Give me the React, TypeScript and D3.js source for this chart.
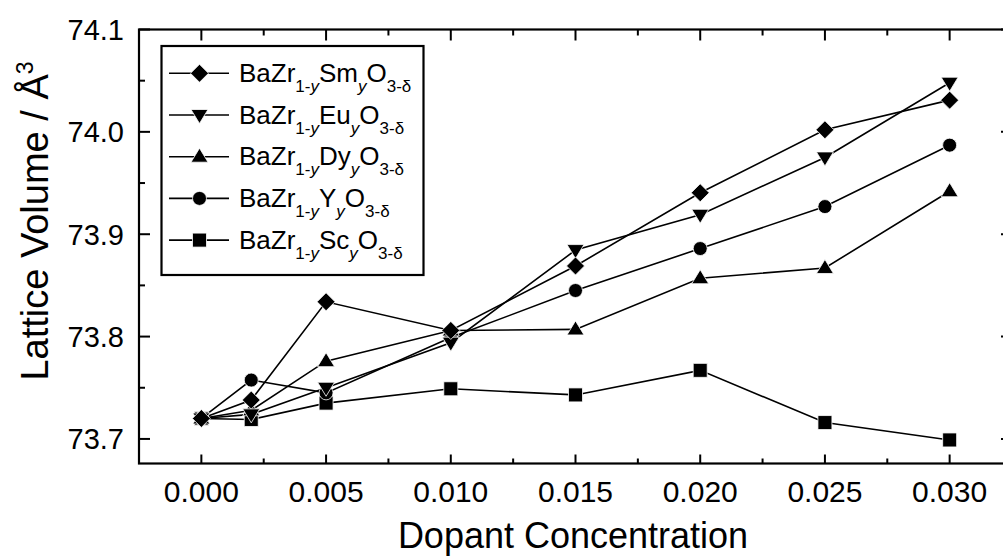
import React from "react";
import * as d3 from "d3";

const concentrations = [0, 0.002, 0.005, 0.01, 0.015, 0.02, 0.025, 0.03];
const smValues = [73.72, 73.738, 73.834, 73.806, 73.869, 73.9405, 74.002, 74.031];
const euValues = [73.72, 73.724, 73.75, 73.794, 73.8845, 73.919, 73.975, 74.048];
const dyValues = [73.72, 73.728, 73.776, 73.806, 73.807, 73.857, 73.867, 73.942];
const yValues = [73.72, 73.7575, 73.745, 73.799, 73.845, 73.886, 73.927, 73.987];
const scValues = [73.72, 73.719, 73.735, 73.749, 73.743, 73.767, 73.716, 73.699];

const xTickValues = [0, 0.005, 0.01, 0.015, 0.02, 0.025, 0.03];
const xTickLabels = ["0.000", "0.005", "0.010", "0.015", "0.020", "0.025", "0.030"];
const yTickValues = [73.7, 73.8, 73.9, 74.0, 74.1];
const yTickLabels = ["73.7", "73.8", "73.9", "74.0", "74.1"];

const seriesNames = ["Sm", "Eu", "Dy", "Y", "Sc"];
const seriesMarkers = ["diamond", "triDown", "triUp", "circle", "square"];
const seriesData = [smValues, euValues, dyValues, yValues, scValues];

const FONT = "'Liberation Sans', Arial, Helvetica, sans-serif";

const W = 1003;
const H = 557;
const L = 139;
const R = 1012;
const T = 29.5;
const B = 463.5;

const x = d3.scaleLinear().domain([-0.0025, 0.0325]).range([L, R]);
const y = d3.scaleLinear().domain([73.676, 74.1]).range([B, T]);

function markerPath(kind: string): string {
  switch (kind) {
    case "diamond":
      return "M0,-9L9,0L0,9L-9,0Z";
    case "triDown":
      return "M-8.5,-5.5L8.5,-5.5L0,8.5Z";
    case "triUp":
      return "M-8.5,5.5L8.5,5.5L0,-8.5Z";
    case "square":
      return "M-7,-7L7,-7L7,7L-7,7Z";
    default:
      return d3.symbol().type(d3.symbolCircle).size(Math.PI * 7 * 7)() || "";
  }
}

function Marker({ kind, cx, cy }: { kind: string; cx: number; cy: number }) {
  return (
    <path
      d={markerPath(kind)}
      transform={`translate(${cx},${cy})`}
      fill="#000"
      stroke="#fff"
      strokeWidth={0.8}
    />
  );
}

export default function App() {
  const line = d3
    .line<[number, number]>()
    .x((d) => x(d[0]))
    .y((d) => y(d[1]));

  const xMinor = d3.range(-0.0025, 0.0326, 0.0025).map((v) => +v.toFixed(4));
  const yMinor = d3.range(73.7, 74.101, 0.05).map((v) => +v.toFixed(2));

  const drawOrder = [4, 3, 2, 1, 0];

  const legendTop = 46;
  const legendRowY = (i: number) => 73.3 + i * 41.7;

  return (
    <svg
      width={W}
      height={H}
      style={{ position: "absolute", left: 0, top: 0, background: "#fff" }}
      fontFamily={FONT}
    >
      <rect x={0} y={0} width={W} height={H} fill="#fff" />
      {drawOrder.map((si) => (
        <path
          key={"l" + si}
          d={line(concentrations.map((c, i) => [c, seriesData[si][i]] as [number, number])) || ""}
          fill="none"
          stroke="#000"
          strokeWidth={1.6}
        />
      ))}
      {drawOrder.map((si) =>
        concentrations.map((c, i) => (
          <Marker key={`m${si}-${i}`} kind={seriesMarkers[si]} cx={x(c)} cy={y(seriesData[si][i])} />
        ))
      )}

      <rect x={L} y={T} width={R - L} height={B - T} fill="none" stroke="#000" strokeWidth={2.2} />

      {xMinor.map((v) => {
        const major = xTickValues.some((t) => Math.abs(t - v) < 1e-6);
        const len = major ? 9 : 5;
        return (
          <g key={"xt" + v}>
            <line x1={x(v)} x2={x(v)} y1={B} y2={B - len} stroke="#000" strokeWidth={2} />
            <line x1={x(v)} x2={x(v)} y1={T} y2={T + (major ? 11 : 6)} stroke="#000" strokeWidth={2} />
          </g>
        );
      })}
      {yMinor.map((v) => {
        const major = yTickValues.some((t) => Math.abs(t - v) < 1e-6);
        const len = major ? 11 : 6;
        return (
          <g key={"yt" + v}>
            <line x1={L} x2={L + len} y1={y(v)} y2={y(v)} stroke="#000" strokeWidth={2} />
            <line x1={R} x2={R - len} y1={y(v)} y2={y(v)} stroke="#000" strokeWidth={2} />
          </g>
        );
      })}

      {xTickValues.map((v, i) => (
        <text key={"xl" + i} x={x(v)} y={501.5} fontSize={30} textAnchor="middle" fill="#000">
          {xTickLabels[i]}
        </text>
      ))}
      {yTickValues.map((v, i) => (
        <text key={"yl" + i} x={124} y={y(v) + 10.5} fontSize={29} textAnchor="end" fill="#000">
          {yTickLabels[i]}
        </text>
      ))}

      <text x={573} y={548} fontSize={36} textAnchor="middle" fill="#000">
        Dopant Concentration
      </text>
      <text transform="translate(48,221) rotate(-90)" fontSize={38} textAnchor="middle" fill="#000">
        Lattice Volume / Å
        <tspan dy={-15} fontSize={23}>3</tspan>
      </text>

      <rect x={161.5} y={legendTop} width={262} height={229} fill="#fff" stroke="#000" strokeWidth={2.2} />
      {seriesNames.map((name, i) => {
        const cy = legendRowY(i);
        return (
          <g key={"lg" + i}>
            <line x1={169} x2={229} y1={cy} y2={cy} stroke="#000" strokeWidth={1.6} />
            <Marker kind={seriesMarkers[i]} cx={199.5} cy={cy} />
            <text x={239} y={cy + 8.5} fontSize={26} fill="#000">
              BaZr
              <tspan dy={10} fontSize={17}>
                1-<tspan fontStyle="italic">y</tspan>
              </tspan>
              <tspan dy={-10}>{name}</tspan>
              <tspan dy={10} fontSize={17} fontStyle="italic">y</tspan>
              <tspan dy={-10}>O</tspan>
              <tspan dy={10} fontSize={17}>3-δ</tspan>
            </text>
          </g>
        );
      })}
    </svg>
  );
}
